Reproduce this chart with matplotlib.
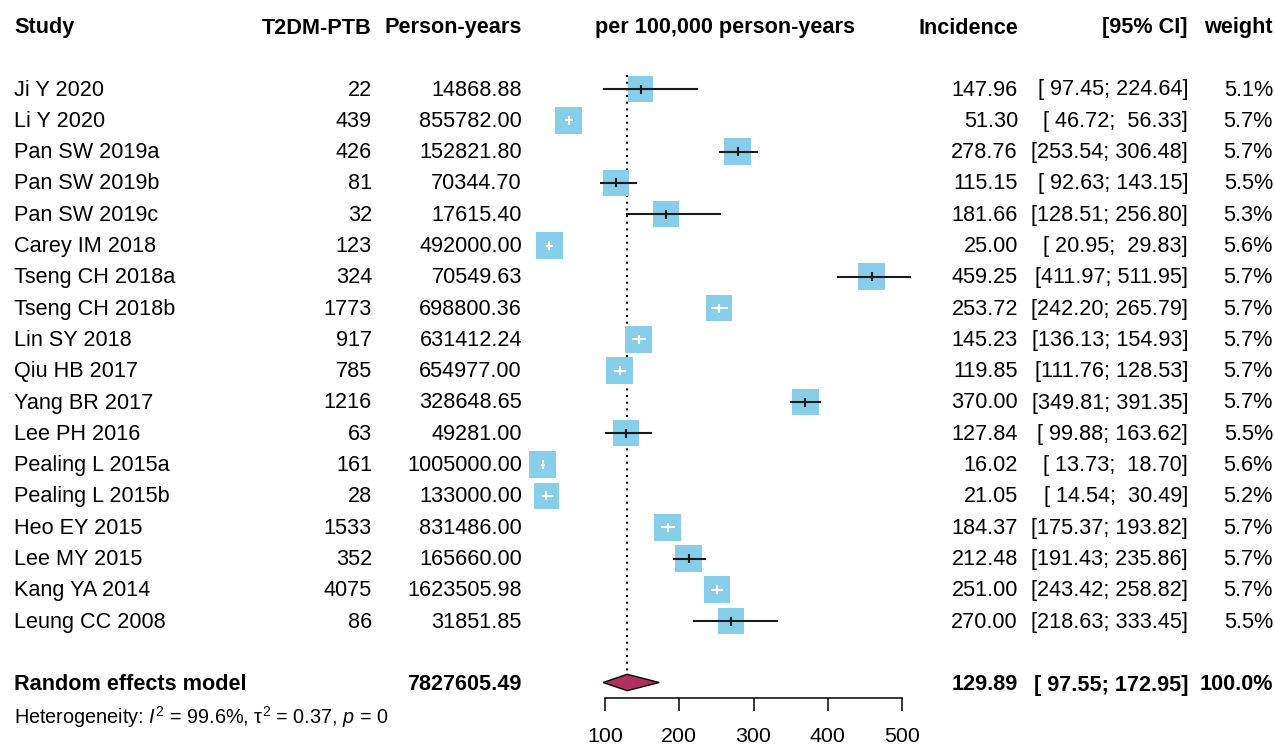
import matplotlib
matplotlib.use("Agg")
import matplotlib.pyplot as plt
import numpy as np

# ---------------- data ----------------
studies = ["Ji Y 2020", "Li Y 2020", "Pan SW 2019a", "Pan SW 2019b", "Pan SW 2019c",
           "Carey IM 2018", "Tseng CH 2018a", "Tseng CH 2018b", "Lin SY 2018", "Qiu HB 2017",
           "Yang BR 2017", "Lee PH 2016", "Pealing L 2015a", "Pealing L 2015b", "Heo EY 2015",
           "Lee MY 2015", "Kang YA 2014", "Leung CC 2008"]
cases = [22, 439, 426, 81, 32, 123, 324, 1773, 917, 785, 1216, 63, 161, 28, 1533, 352, 4075, 86]
person_years = [14868.88, 855782.00, 152821.80, 70344.70, 17615.40, 492000.00, 70549.63,
                698800.36, 631412.24, 654977.00, 328648.65, 49281.00, 1005000.00, 133000.00,
                831486.00, 165660.00, 1623505.98, 31851.85]
incidence = [147.96, 51.30, 278.76, 115.15, 181.66, 25.00, 459.25, 253.72, 145.23, 119.85,
             370.00, 127.84, 16.02, 21.05, 184.37, 212.48, 251.00, 270.00]
ci_lower = [97.45, 46.72, 253.54, 92.63, 128.51, 20.95, 411.97, 242.20, 136.13, 111.76,
            349.81, 99.88, 13.73, 14.54, 175.37, 191.43, 243.42, 218.63]
ci_upper = [224.64, 56.33, 306.48, 143.15, 256.80, 29.83, 511.95, 265.79, 154.93, 128.53,
            391.35, 163.62, 18.70, 30.49, 193.82, 235.86, 258.82, 333.45]
weights = [5.1, 5.7, 5.7, 5.5, 5.3, 5.6, 5.7, 5.7, 5.7, 5.7, 5.7, 5.5, 5.6, 5.2, 5.7, 5.7, 5.7, 5.5]

pooled_label = "Random effects model"
pooled_py = 7827605.49
pooled_est = 129.89
pooled_lo = 97.55
pooled_hi = 172.95
pooled_weight = 100.0
het_text = r"Heterogeneity: $I^2$ = 99.6%, τ$^2$ = 0.37, $p$ = 0"

headers = ["Study", "T2DM-PTB", "Person-years", "per 100,000 person-years",
           "Incidence", "[95% CI]", "weight"]
xticks = [100, 200, 300, 400, 500]

# ---------------- style ----------------
plt.rcParams["font.family"] = ["Liberation Sans", "DejaVu Sans"]
plt.rcParams["mathtext.fontset"] = "custom"
plt.rcParams["mathtext.rm"] = "Liberation Sans"
plt.rcParams["mathtext.it"] = "Liberation Sans:italic"
plt.rcParams["mathtext.bf"] = "Liberation Sans:bold"

W, H = 1275, 746
FS = 15.6
BOX = "#87CEEB"
DIAMOND = "#B03060"

fig = plt.figure(figsize=(W / 100, H / 100), dpi=100)

# text layer in pixel coordinates
tax = fig.add_axes([0, 0, 1, 1])
tax.set_xlim(0, W)
tax.set_ylim(H, 0)
tax.axis("off")

# forest axes: data 100 -> px 605, 500 -> px 902
px100, px500 = 605.0, 902.0
ppu = (px500 - px100) / 400.0
ax_l, ax_r = 480.0, 960.0
fax = fig.add_axes([ax_l / W, 0, (ax_r - ax_l) / W, 1])
fax.set_xlim(100 - (px100 - ax_l) / ppu, 100 + (ax_r - px100) / ppu)
fax.set_ylim(H, 0)
fax.patch.set_visible(False)
for s in ["top", "right", "left"]:
    fax.spines[s].set_visible(False)
axis_y = 698
fax.spines["bottom"].set_position(("data", axis_y))
fax.spines["bottom"].set_bounds(xticks[0], xticks[-1])
fax.spines["bottom"].set_linewidth(1.1)
fax.set_xticks(xticks)
fax.set_xticklabels([str(t) for t in xticks])
fax.tick_params(axis="x", direction="out", length=9.2, width=1.1, labelsize=15.4, pad=11.5)
fax.set_yticks([])

# row positions
row0, row_step = 89.0, 31.3
n = len(studies)
ys = row0 + np.arange(n) * row_step
dy = 1.0  # text baseline tweak
y_head = 27
y_pool = 684
y_het = 716

# column anchors
x_study = 14
x_cases = 372
x_py = 522
x_plot_head = 725
x_inc = 1018
x_ci = 1188
x_w = 1273

def fmt_ci(lo, hi):
    return "[{:6.2f}; {:6.2f}]".format(lo, hi)

# headers
tkw = dict(fontsize=FS, va="center")
yh = y_head + dy
tax.text(x_study, yh, headers[0], ha="left", fontweight="bold", **tkw)
tax.text(x_cases, yh, headers[1], ha="right", fontweight="bold", **tkw)
tax.text(x_py, yh, headers[2], ha="right", fontweight="bold", **tkw)
tax.text(x_plot_head, yh, headers[3], ha="center", fontweight="bold", **tkw)
tax.text(x_inc, yh, headers[4], ha="right", fontweight="bold", **tkw)
tax.text(x_ci, yh, headers[5], ha="right", fontweight="bold", **tkw)
tax.text(x_w, yh, headers[6], ha="right", fontweight="bold", **tkw)

# study rows
for i in range(n):
    y = ys[i] + dy
    tax.text(x_study, y, studies[i], ha="left", **tkw)
    tax.text(x_cases, y, str(cases[i]), ha="right", **tkw)
    tax.text(x_py, y, "{:.2f}".format(person_years[i]), ha="right", **tkw)
    tax.text(x_inc, y, "{:.2f}".format(incidence[i]), ha="right", **tkw)
    tax.text(x_ci, y, fmt_ci(ci_lower[i], ci_upper[i]), ha="right", **tkw)
    tax.text(x_w, y, "{:.1f}%".format(weights[i]), ha="right", **tkw)

# pooled row
yp = y_pool + dy
tax.text(x_study, yp, pooled_label, ha="left", fontweight="bold", **tkw)
tax.text(x_py, yp, "{:.2f}".format(pooled_py), ha="right", fontweight="bold", **tkw)
tax.text(x_inc, yp, "{:.2f}".format(pooled_est), ha="right", fontweight="bold", **tkw)
tax.text(x_ci, yp, fmt_ci(pooled_lo, pooled_hi), ha="right", fontweight="bold", **tkw)
tax.text(x_w, yp, "{:.1f}%".format(pooled_weight), ha="right", fontweight="bold", **tkw)
tax.text(x_study, y_het + dy, het_text, ha="left", fontsize=14.3, va="center")

# forest marks
wmax = max(weights)
side_px = 26.7 * np.sqrt(np.array(weights) / wmax)
fax.scatter(incidence, ys, s=(side_px * 0.72) ** 2, marker="s", color=BOX,
            linewidths=0, zorder=2, clip_on=False)
for i in range(n):
    half_units = side_px[i] / 2 / ppu
    inside = (incidence[i] - ci_lower[i] <= half_units) and (ci_upper[i] - incidence[i] <= half_units)
    col = "white" if inside else "#1a1a1a"
    fax.plot([ci_lower[i], ci_upper[i]], [ys[i], ys[i]], color=col, lw=1.5, zorder=3,
             solid_capstyle="butt", clip_on=False)
    fax.plot([incidence[i], incidence[i]], [ys[i] - 4.5, ys[i] + 4.5], color=col, lw=1.5,
             zorder=3, solid_capstyle="butt", clip_on=False)

# reference (pooled) dotted line
fax.plot([pooled_est, pooled_est], [75, 673], color="black", lw=1.5, ls=(0, (1, 2.2)), zorder=1)

# diamond
dh = 8.2
fax.fill([pooled_lo, pooled_est, pooled_hi, pooled_est],
         [y_pool - 1.5, y_pool - 1.5 - dh, y_pool - 1.5, y_pool - 1.5 + dh],
         facecolor=DIAMOND, edgecolor="black", lw=1.0, zorder=3)

fig.savefig("out.png", dpi=100)
